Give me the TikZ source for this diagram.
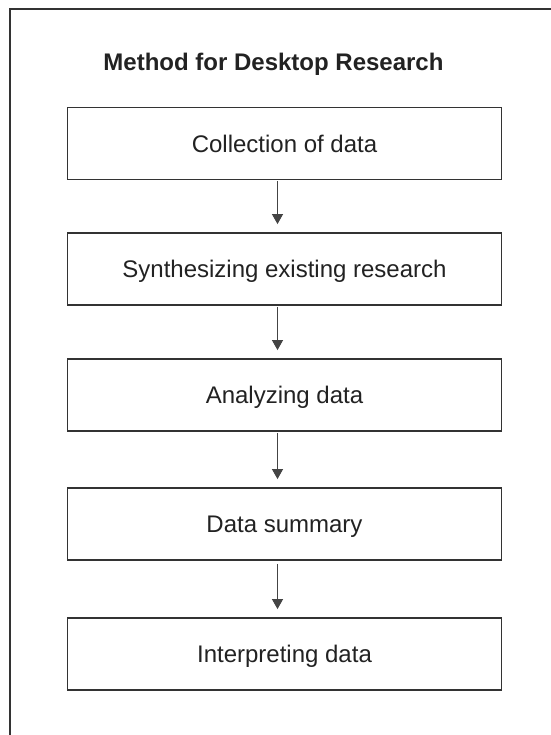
\documentclass[tikz,border=0pt]{standalone}
\usepackage{fontspec}
\setmainfont{Liberation Sans}
\usetikzlibrary{arrows.meta,calc}
\definecolor{ink}{HTML}{222222}
\definecolor{boxline}{HTML}{333333}
\definecolor{arrline}{HTML}{444444}
\tikzset{
  stepbox/.style={draw=boxline, line width=1.8bp, minimum width=434bp, minimum height=72bp,
    inner sep=0pt, text=ink, text height=17.2bp, text depth=0bp,
    font=\fontsize{24bp}{28bp}\selectfont},
  titletext/.style={inner sep=0pt, text=ink, text height=17.2bp, text depth=0bp,
    font=\fontsize{24bp}{28bp}\selectfont\bfseries},
  flow/.style={draw=arrline, line width=1bp, -{Triangle[length=10bp,width=11bp]}},
  frameline/.style={draw=boxline, line width=1.6bp}
}
\begin{document}
\begin{tikzpicture}[x=1bp,y=-1bp]
\useasboundingbox (0,0) rectangle (551,735);
\clip (0,0) rectangle (551,735);
\fill[white] (0,0) rectangle (551,735);
\coordinate (fb) at (10,745);
\coordinate (fc) at (10,9);
\coordinate (fr) at (560,9);
\draw[frameline] (fb) -- (fc) -- (fr);
\node[titletext] (title) at (273.5,61.5) {Method for Desktop Research};
\node[stepbox] (b1) at (284.5,143.5) {Collection of data};
\node[stepbox] (b2) at (284.5,269) {Synthesizing existing research};
\node[stepbox] (b3) at (284.5,395) {Analyzing data};
\node[stepbox] (b4) at (284.5,524) {Data summary};
\node[stepbox] (b5) at (284.5,654) {Interpreting data};
\draw[flow] ([xshift=-7bp,yshift=-1bp]b1.south) -- ([xshift=-7bp,yshift=8bp]b2.north);
\draw[flow] ([xshift=-7bp,yshift=-1bp]b2.south) -- ([xshift=-7bp,yshift=8bp]b3.north);
\draw[flow] ([xshift=-7bp,yshift=-1bp]b3.south) -- ([xshift=-7bp,yshift=8bp]b4.north);
\draw[flow] ([xshift=-7bp,yshift=-3bp]b4.south) -- ([xshift=-7bp,yshift=8bp]b5.north);
\end{tikzpicture}
\end{document}
